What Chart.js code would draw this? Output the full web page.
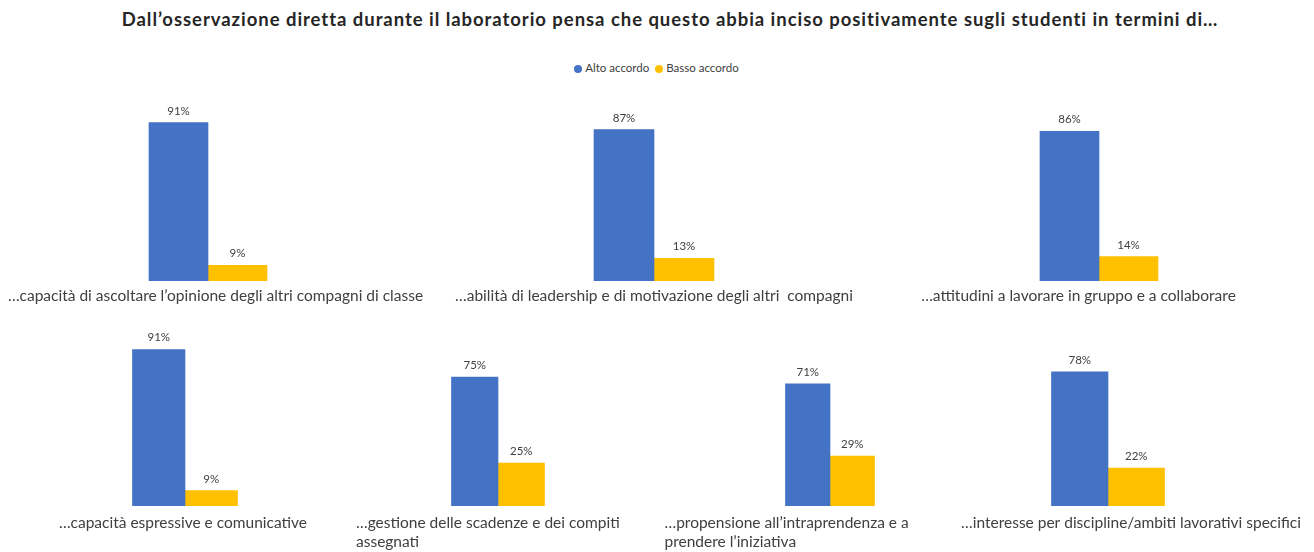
<!DOCTYPE html>
<html>
<head>
<meta charset="utf-8">
<script src="https://cdn.jsdelivr.net/npm/chart.js@4.4.0/dist/chart.umd.min.js"></script>
<style>
  body { margin: 0; width: 1314px; height: 552px; overflow: hidden; background: #fff; position: relative; font-family: Lato, sans-serif; }
  #title { position: absolute; left: 0; top: 8px; width: 1340px; text-align: center; font-weight: bold; font-size: 18.5px; letter-spacing: 0.95px; line-height: 1.2; color: #262626; white-space: nowrap; }
  #legend { position: absolute; left: 0; top: 61px; width: 1313px; text-align: center; font-size: 11.5px; color: #404040; }
  #legend span.item { margin: 0 3px; }
  #legend span.dot { display: inline-block; width: 8px; height: 8px; border-radius: 50%; margin-right: 3px; vertical-align: -0.5px; }
  canvas { position: absolute; }
</style>
</head>
<body>
<div id="title"></div>
<div id="legend"></div>
<script>
var titleText = 'Dall’osservazione diretta durante il laboratorio pensa che questo abbia inciso positivamente sugli studenti in termini di…';

// one category per small chart
var categories = [
  '…capacità di ascoltare l’opinione degli altri compagni di classe',
  '…abilità di leadership e di motivazione degli altri  compagni',
  '…attitudini a lavorare in gruppo e a collaborare',
  '…capacità espressive e comunicative',
  ['…gestione delle scadenze e dei compiti', 'assegnati'],
  ['…propensione all’intraprendenza e a', 'prendere l’iniziativa'],
  '…interesse per discipline/ambiti lavorativi specifici'
];
var seriesNames = ['Alto accordo', 'Basso accordo'];
var altoAccordo  = [91, 87, 86, 91, 75, 71, 78];
var bassoAccordo = [9, 13, 14, 9, 25, 29, 22];

var colors = ['#4472C4', '#FFC000'];

// where each small chart sits on the page
var panels = [
  { cx: 208,   bw: 59,   y0: 281, y100: 107, w: 440, off: 7.5 },
  { cx: 654,   bw: 60,   y0: 281, y100: 107, w: 440, off: 0 },
  { cx: 1099,  bw: 59,   y0: 281, y100: 107, w: 440, off: -20.5 },
  { cx: 185,   bw: 52.5, y0: 506, y100: 334, w: 400, off: -2 },
  { cx: 498,   bw: 46.5, y0: 506, y100: 334, w: 600, left: 356 },
  { cx: 829.5, bw: 44.5, y0: 506, y100: 334, w: 600, left: 664 },
  { cx: 1107.5,bw: 56.5, y0: 506, y100: 334, w: 400, off: 23 }
];

document.getElementById('title').textContent = titleText;
var legend = document.getElementById('legend');
seriesNames.forEach(function (name, i) {
  var item = document.createElement('span');
  item.className = 'item';
  item.innerHTML = '<span class="dot" style="background:' + colors[i] + '"></span>' + name;
  legend.appendChild(item);
});

var valueLabels = {
  id: 'valueLabels',
  afterDatasetsDraw: function (chart) {
    var ctx = chart.ctx;
    ctx.save();
    ctx.font = '11.5px Lato';
    ctx.fillStyle = '#404040';
    ctx.textAlign = 'center';
    ctx.textBaseline = 'alphabetic';
    chart.data.datasets.forEach(function (ds, i) {
      chart.getDatasetMeta(i).data.forEach(function (bar, j) {
        ctx.fillText(ds.data[j] + '%', bar.x, bar.y - 8);
      });
    });
    ctx.restore();
  }
};

var padTop = 24, axisH = 50, padBottom = 0;

panels.forEach(function (p, k) {
  var canvas = document.createElement('canvas');
  var h = padTop + (p.y0 - p.y100) + axisH + padBottom;
  canvas.width = p.w;
  canvas.height = h;
  canvas.style.left = (p.cx - p.w / 2) + 'px';
  canvas.style.top = (p.y100 - padTop) + 'px';
  document.body.appendChild(canvas);

  var wrapped = Array.isArray(categories[k]);

  new Chart(canvas.getContext('2d'), {
    type: 'bar',
    data: {
      labels: [categories[k]],
      datasets: [
        { label: seriesNames[0], data: [altoAccordo[k]], backgroundColor: colors[0], barThickness: p.bw },
        { label: seriesNames[1], data: [bassoAccordo[k]], backgroundColor: colors[1], barThickness: p.bw }
      ]
    },
    options: {
      responsive: false,
      animation: false,
      layout: { padding: { top: padTop, bottom: padBottom, left: 0, right: 0 } },
      plugins: { legend: { display: false }, tooltip: { enabled: false } },
      scales: {
        x: {
          grid: { display: false, drawTicks: false },
          border: { display: false },
          ticks: {
            autoSkip: false,
            maxRotation: 0,
            minRotation: 0,
            padding: k < 3 ? 5 : 7,
            align: wrapped ? 'start' : 'center',
            labelOffset: wrapped ? p.left - p.cx : p.off,
            color: '#404040',
            font: { family: 'Lato', size: 15.5, lineHeight: 1.23 }
          },
          afterFit: function (scale) { scale.height = axisH; }
        },
        y: { display: false, min: 0, max: 100 }
      }
    },
    plugins: [valueLabels]
  });
});
</script>
</body>
</html>
